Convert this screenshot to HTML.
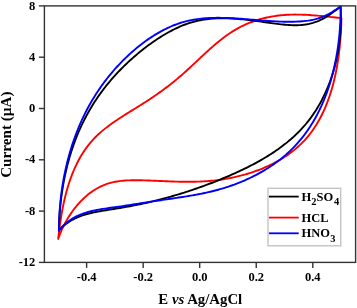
<!DOCTYPE html>
<html><head><meta charset="utf-8"><style>
html,body{margin:0;padding:0;background:#fff;}
body{width:357px;height:308px;overflow:hidden;}
svg{display:block;}
text{font-family:"Liberation Serif",serif;font-weight:bold;fill:#000;}
</style></head><body>
<svg width="357" height="308" viewBox="0 0 357 308">
<rect x="0" y="0" width="357" height="308" fill="#fff"/>
<path d="M58.20,238.90 L58.41,236.95 L58.63,234.98 L58.86,233.01 L59.10,231.03 L59.34,229.04 L59.60,227.05 L59.87,225.06 L60.16,223.06 L60.45,221.05 L60.76,219.04 L61.08,217.03 L61.41,215.02 L61.76,213.01 L62.12,211.00 L62.50,208.99 L62.89,206.98 L63.30,204.97 L63.73,202.97 L64.17,200.96 L64.63,198.97 L65.11,196.98 L65.60,194.99 L66.12,193.01 L66.65,191.04 L67.21,189.07 L67.78,187.11 L68.38,185.17 L68.99,183.23 L69.63,181.30 L70.29,179.39 L70.97,177.48 L71.68,175.59 L72.41,173.71 L73.16,171.85 L73.94,170.00 L74.74,168.17 L75.57,166.35 L76.42,164.55 L77.30,162.77 L78.21,161.01 L79.14,159.27 L80.10,157.54 L81.09,155.84 L82.11,154.16 L83.16,152.50 L84.23,150.86 L85.34,149.24 L86.48,147.65 L87.64,146.09 L88.84,144.55 L90.08,143.04 L91.34,141.55 L92.64,140.09 L93.97,138.66 L95.33,137.26 L96.72,135.89 L98.14,134.54 L99.60,133.21 L101.07,131.91 L102.58,130.63 L104.11,129.37 L105.66,128.13 L107.23,126.91 L108.83,125.70 L110.44,124.52 L112.07,123.35 L113.72,122.19 L115.38,121.05 L117.05,119.91 L118.74,118.79 L120.44,117.68 L122.15,116.58 L123.87,115.49 L125.59,114.40 L127.32,113.32 L129.06,112.24 L130.80,111.16 L132.54,110.09 L134.28,109.02 L136.02,107.94 L137.75,106.87 L139.49,105.79 L141.22,104.71 L142.94,103.63 L144.65,102.54 L146.36,101.44 L148.06,100.33 L149.75,99.22 L151.43,98.10 L153.10,96.97 L154.76,95.83 L156.42,94.69 L158.06,93.53 L159.70,92.37 L161.33,91.20 L162.95,90.01 L164.56,88.82 L166.16,87.62 L167.76,86.40 L169.35,85.18 L170.93,83.94 L172.50,82.70 L174.07,81.44 L175.62,80.17 L177.17,78.88 L178.72,77.59 L180.25,76.28 L181.78,74.96 L183.30,73.63 L184.81,72.28 L186.32,70.92 L187.82,69.55 L189.32,68.18 L190.81,66.80 L192.30,65.41 L193.79,64.02 L195.27,62.62 L196.76,61.22 L198.24,59.82 L199.73,58.43 L201.21,57.03 L202.70,55.64 L204.19,54.25 L205.69,52.87 L207.18,51.50 L208.68,50.13 L210.19,48.78 L211.71,47.44 L213.23,46.11 L214.75,44.79 L216.29,43.49 L217.84,42.21 L219.39,40.94 L220.95,39.70 L222.53,38.47 L224.12,37.27 L225.72,36.09 L227.33,34.93 L228.96,33.81 L230.60,32.70 L232.26,31.63 L233.93,30.59 L235.63,29.58 L237.33,28.60 L239.06,27.65 L240.80,26.74 L242.57,25.87 L244.35,25.02 L246.14,24.22 L247.95,23.44 L249.78,22.70 L251.63,21.99 L253.48,21.32 L255.36,20.68 L257.24,20.07 L259.14,19.50 L261.05,18.96 L262.98,18.45 L264.91,17.97 L266.86,17.53 L268.81,17.12 L270.78,16.73 L272.75,16.39 L274.74,16.07 L276.73,15.78 L278.73,15.53 L280.74,15.30 L282.75,15.11 L284.78,14.95 L286.80,14.81 L288.83,14.71 L290.87,14.64 L292.91,14.59 L294.95,14.57 L297.00,14.58 L299.05,14.60 L301.10,14.65 L303.15,14.72 L305.20,14.81 L307.25,14.92 L309.30,15.04 L311.34,15.18 L313.39,15.33 L315.43,15.50 L317.47,15.67 L319.50,15.86 L321.53,16.05 L323.55,16.25 L325.57,16.45 L327.58,16.66 L329.58,16.87 L331.57,17.08 L333.56,17.29 L335.53,17.50 L337.50,17.71 L339.46,17.91 L341.40,18.10 M341.40,18.10 L341.36,20.00 L341.31,21.91 L341.25,23.83 L341.18,25.77 L341.10,27.71 L341.00,29.67 L340.90,31.64 L340.79,33.61 L340.66,35.60 L340.52,37.59 L340.36,39.59 L340.20,41.60 L340.02,43.61 L339.83,45.63 L339.62,47.66 L339.40,49.69 L339.16,51.72 L338.91,53.75 L338.64,55.79 L338.36,57.83 L338.06,59.87 L337.75,61.91 L337.42,63.95 L337.07,65.99 L336.70,68.02 L336.32,70.06 L335.92,72.09 L335.50,74.12 L335.06,76.14 L334.61,78.16 L334.13,80.18 L333.63,82.19 L333.12,84.19 L332.58,86.18 L332.02,88.17 L331.45,90.14 L330.85,92.11 L330.23,94.07 L329.59,96.02 L328.92,97.95 L328.23,99.87 L327.52,101.79 L326.79,103.68 L326.03,105.57 L325.25,107.44 L324.45,109.29 L323.62,111.13 L322.77,112.95 L321.89,114.76 L320.98,116.54 L320.05,118.31 L319.09,120.06 L318.11,121.79 L317.10,123.50 L316.06,125.19 L315.00,126.86 L313.91,128.50 L312.79,130.12 L311.64,131.72 L310.46,133.29 L309.25,134.84 L308.02,136.36 L306.75,137.86 L305.45,139.33 L304.13,140.77 L302.77,142.19 L301.38,143.58 L299.97,144.94 L298.53,146.27 L297.06,147.58 L295.56,148.86 L294.04,150.11 L292.50,151.34 L290.93,152.54 L289.33,153.71 L287.71,154.86 L286.07,155.99 L284.41,157.08 L282.72,158.15 L281.02,159.20 L279.29,160.22 L277.55,161.21 L275.79,162.18 L274.00,163.12 L272.21,164.04 L270.39,164.93 L268.56,165.80 L266.71,166.65 L264.85,167.47 L262.98,168.26 L261.09,169.03 L259.18,169.78 L257.27,170.50 L255.34,171.20 L253.41,171.88 L251.46,172.53 L249.50,173.16 L247.54,173.76 L245.56,174.34 L243.58,174.90 L241.60,175.44 L239.60,175.95 L237.60,176.44 L235.60,176.91 L233.59,177.35 L231.57,177.77 L229.56,178.17 L227.54,178.55 L225.52,178.91 L223.50,179.24 L221.47,179.55 L219.45,179.84 L217.43,180.11 L215.41,180.36 L213.40,180.58 L211.38,180.79 L209.37,180.97 L207.36,181.14 L205.36,181.28 L203.36,181.40 L201.36,181.51 L199.37,181.60 L197.38,181.67 L195.39,181.73 L193.40,181.77 L191.42,181.80 L189.43,181.81 L187.45,181.81 L185.47,181.80 L183.49,181.78 L181.50,181.75 L179.52,181.71 L177.54,181.66 L175.56,181.60 L173.57,181.54 L171.59,181.47 L169.60,181.40 L167.61,181.32 L165.62,181.24 L163.63,181.16 L161.63,181.07 L159.63,180.98 L157.63,180.90 L155.62,180.81 L153.61,180.73 L151.60,180.65 L149.58,180.57 L147.56,180.49 L145.53,180.42 L143.49,180.36 L141.45,180.31 L139.41,180.26 L137.37,180.23 L135.33,180.22 L133.29,180.23 L131.25,180.27 L129.22,180.33 L127.20,180.42 L125.18,180.55 L123.17,180.71 L121.17,180.91 L119.19,181.16 L117.22,181.45 L115.26,181.79 L113.33,182.18 L111.41,182.63 L109.51,183.14 L107.63,183.71 L105.78,184.34 L103.95,185.04 L102.14,185.81 L100.36,186.64 L98.61,187.54 L96.88,188.49 L95.18,189.50 L93.50,190.57 L91.86,191.69 L90.24,192.86 L88.65,194.08 L87.09,195.35 L85.56,196.67 L84.06,198.03 L82.59,199.44 L81.15,200.88 L79.74,202.36 L78.37,203.88 L77.02,205.44 L75.71,207.02 L74.43,208.64 L73.19,210.28 L71.98,211.96 L70.80,213.65 L69.66,215.37 L68.55,217.11 L67.48,218.87 L66.45,220.65 L65.45,222.44 L64.49,224.24 L63.57,226.06 L62.68,227.88 L61.84,229.71 L61.03,231.55 L60.26,233.38 L59.54,235.22 L58.85,237.06 L58.20,238.90" fill="none" stroke="#ff0000" stroke-width="1.9" stroke-linejoin="round" stroke-linecap="round"/>
<path d="M58.90,230.50 L58.94,228.49 L59.00,226.48 L59.07,224.46 L59.15,222.45 L59.24,220.43 L59.35,218.42 L59.47,216.40 L59.61,214.39 L59.75,212.37 L59.91,210.36 L60.09,208.35 L60.27,206.34 L60.48,204.32 L60.69,202.31 L60.92,200.31 L61.16,198.30 L61.42,196.29 L61.69,194.29 L61.98,192.29 L62.28,190.29 L62.59,188.29 L62.92,186.30 L63.27,184.31 L63.63,182.32 L64.00,180.34 L64.39,178.35 L64.79,176.37 L65.21,174.40 L65.65,172.43 L66.10,170.46 L66.56,168.50 L67.04,166.54 L67.54,164.59 L68.05,162.64 L68.58,160.69 L69.12,158.75 L69.68,156.82 L70.26,154.89 L70.85,152.97 L71.46,151.05 L72.09,149.14 L72.73,147.23 L73.39,145.34 L74.07,143.44 L74.76,141.56 L75.47,139.68 L76.20,137.81 L76.94,135.94 L77.71,134.08 L78.49,132.23 L79.28,130.39 L80.10,128.55 L80.93,126.73 L81.78,124.91 L82.65,123.10 L83.53,121.30 L84.44,119.50 L85.36,117.72 L86.30,115.94 L87.26,114.18 L88.24,112.42 L89.23,110.67 L90.25,108.94 L91.28,107.21 L92.33,105.49 L93.40,103.79 L94.49,102.09 L95.59,100.40 L96.72,98.73 L97.86,97.06 L99.01,95.40 L100.19,93.76 L101.38,92.13 L102.59,90.50 L103.81,88.89 L105.05,87.29 L106.30,85.70 L107.58,84.13 L108.86,82.56 L110.16,81.01 L111.48,79.47 L112.81,77.94 L114.16,76.42 L115.52,74.91 L116.89,73.42 L118.28,71.94 L119.68,70.47 L121.10,69.01 L122.53,67.57 L123.97,66.14 L125.43,64.72 L126.90,63.32 L128.38,61.93 L129.87,60.55 L131.38,59.19 L132.90,57.84 L134.42,56.50 L135.97,55.18 L137.52,53.87 L139.08,52.57 L140.66,51.29 L142.24,50.03 L143.84,48.77 L145.44,47.54 L147.06,46.31 L148.68,45.10 L150.32,43.91 L151.96,42.73 L153.62,41.57 L155.28,40.43 L156.96,39.30 L158.64,38.19 L160.34,37.10 L162.04,36.04 L163.76,34.99 L165.48,33.97 L167.22,32.97 L168.96,32.00 L170.72,31.05 L172.49,30.13 L174.27,29.23 L176.06,28.37 L177.86,27.53 L179.67,26.73 L181.49,25.96 L183.33,25.22 L185.17,24.51 L187.03,23.84 L188.90,23.21 L190.78,22.61 L192.68,22.05 L194.58,21.52 L196.50,21.04 L198.43,20.60 L200.37,20.20 L202.32,19.84 L204.29,19.52 L206.27,19.24 L208.25,19.00 L210.25,18.79 L212.26,18.62 L214.27,18.48 L216.29,18.38 L218.32,18.31 L220.35,18.26 L222.39,18.25 L224.43,18.26 L226.48,18.30 L228.53,18.37 L230.58,18.45 L232.64,18.56 L234.70,18.69 L236.76,18.84 L238.81,19.01 L240.87,19.19 L242.92,19.39 L244.98,19.61 L247.03,19.84 L249.08,20.08 L251.12,20.33 L253.16,20.58 L255.19,20.85 L257.21,21.12 L259.23,21.40 L261.25,21.68 L263.25,21.97 L265.25,22.25 L267.24,22.53 L269.23,22.81 L271.22,23.09 L273.20,23.35 L275.18,23.61 L277.17,23.86 L279.15,24.10 L281.14,24.32 L283.13,24.53 L285.13,24.72 L287.13,24.89 L289.13,25.03 L291.14,25.14 L293.15,25.21 L295.16,25.23 L297.17,25.21 L299.18,25.12 L301.19,24.99 L303.18,24.79 L305.17,24.53 L307.15,24.20 L309.12,23.81 L311.07,23.35 L313.00,22.82 L314.91,22.21 L316.80,21.53 L318.66,20.77 L320.50,19.94 L322.31,19.05 L324.10,18.09 L325.86,17.07 L327.59,16.01 L329.30,14.89 L330.98,13.74 L332.64,12.56 L334.27,11.35 L335.89,10.12 L337.48,8.88 L339.05,7.64 L340.60,6.40 M340.60,6.40 L340.71,8.40 L340.80,10.40 L340.86,12.40 L340.91,14.41 L340.94,16.43 L340.94,18.44 L340.92,20.46 L340.89,22.49 L340.83,24.51 L340.75,26.54 L340.65,28.56 L340.53,30.59 L340.39,32.62 L340.22,34.65 L340.04,36.67 L339.83,38.70 L339.60,40.73 L339.35,42.75 L339.08,44.77 L338.79,46.79 L338.47,48.81 L338.14,50.82 L337.78,52.83 L337.40,54.83 L337.00,56.83 L336.57,58.83 L336.13,60.81 L335.66,62.80 L335.17,64.77 L334.65,66.74 L334.12,68.71 L333.56,70.66 L332.98,72.61 L332.38,74.55 L331.75,76.48 L331.11,78.40 L330.44,80.31 L329.74,82.21 L329.03,84.10 L328.29,85.98 L327.52,87.85 L326.74,89.71 L325.93,91.55 L325.10,93.39 L324.25,95.21 L323.37,97.01 L322.47,98.80 L321.55,100.58 L320.60,102.34 L319.63,104.09 L318.63,105.82 L317.61,107.54 L316.57,109.24 L315.51,110.92 L314.42,112.59 L313.31,114.24 L312.17,115.87 L311.01,117.48 L309.82,119.07 L308.62,120.65 L307.38,122.20 L306.13,123.74 L304.85,125.25 L303.54,126.74 L302.21,128.21 L300.86,129.67 L299.48,131.10 L298.09,132.51 L296.67,133.90 L295.23,135.28 L293.77,136.63 L292.29,137.97 L290.79,139.28 L289.27,140.58 L287.73,141.86 L286.17,143.12 L284.59,144.37 L283.00,145.59 L281.39,146.80 L279.77,148.00 L278.13,149.17 L276.47,150.33 L274.80,151.48 L273.12,152.61 L271.42,153.72 L269.71,154.82 L267.98,155.90 L266.24,156.96 L264.49,158.02 L262.73,159.05 L260.96,160.08 L259.18,161.09 L257.39,162.08 L255.59,163.07 L253.78,164.04 L251.96,164.99 L250.14,165.94 L248.31,166.87 L246.47,167.79 L244.62,168.69 L242.77,169.59 L240.91,170.47 L239.05,171.35 L237.18,172.21 L235.31,173.06 L233.44,173.90 L231.56,174.73 L229.69,175.55 L227.81,176.36 L225.92,177.16 L224.04,177.96 L222.16,178.74 L220.28,179.51 L218.39,180.28 L216.51,181.03 L214.62,181.78 L212.74,182.52 L210.85,183.25 L208.96,183.97 L207.07,184.68 L205.18,185.38 L203.29,186.08 L201.40,186.76 L199.51,187.44 L197.61,188.11 L195.72,188.77 L193.82,189.42 L191.92,190.06 L190.02,190.70 L188.12,191.32 L186.21,191.94 L184.31,192.54 L182.40,193.14 L180.49,193.73 L178.58,194.32 L176.67,194.89 L174.75,195.46 L172.84,196.01 L170.92,196.56 L169.00,197.10 L167.07,197.64 L165.14,198.16 L163.22,198.68 L161.28,199.18 L159.35,199.68 L157.41,200.17 L155.47,200.66 L153.53,201.13 L151.59,201.60 L149.64,202.06 L147.69,202.51 L145.73,202.95 L143.78,203.39 L141.82,203.81 L139.85,204.23 L137.89,204.64 L135.92,205.04 L133.94,205.44 L131.97,205.83 L129.99,206.21 L128.00,206.58 L126.01,206.94 L124.02,207.30 L122.03,207.65 L120.03,207.99 L118.02,208.32 L116.02,208.64 L114.00,208.96 L111.99,209.27 L109.97,209.58 L107.95,209.89 L105.94,210.21 L103.93,210.53 L101.92,210.86 L99.91,211.20 L97.92,211.57 L95.93,211.95 L93.95,212.35 L91.99,212.79 L90.04,213.25 L88.10,213.75 L86.18,214.28 L84.28,214.86 L82.39,215.47 L80.53,216.14 L78.69,216.85 L76.87,217.62 L75.08,218.44 L73.32,219.32 L71.58,220.27 L69.88,221.28 L68.20,222.36 L66.56,223.52 L64.95,224.75 L63.38,226.06 L61.85,227.45 L60.35,228.93 L58.90,230.50" fill="none" stroke="#000000" stroke-width="1.9" stroke-linejoin="round" stroke-linecap="round"/>
<path d="M58.90,230.50 L58.92,228.50 L58.95,226.51 L58.99,224.51 L59.05,222.51 L59.11,220.51 L59.20,218.50 L59.29,216.50 L59.40,214.49 L59.52,212.49 L59.66,210.49 L59.81,208.48 L59.97,206.48 L60.15,204.47 L60.34,202.47 L60.54,200.46 L60.76,198.46 L60.99,196.46 L61.24,194.46 L61.50,192.46 L61.77,190.46 L62.06,188.46 L62.36,186.47 L62.68,184.48 L63.01,182.49 L63.35,180.50 L63.71,178.51 L64.09,176.53 L64.47,174.55 L64.88,172.57 L65.29,170.60 L65.73,168.63 L66.17,166.67 L66.63,164.70 L67.11,162.75 L67.60,160.79 L68.10,158.84 L68.62,156.90 L69.16,154.96 L69.71,153.02 L70.28,151.09 L70.86,149.17 L71.45,147.25 L72.06,145.33 L72.69,143.42 L73.33,141.52 L73.99,139.63 L74.66,137.74 L75.35,135.85 L76.05,133.98 L76.77,132.11 L77.51,130.25 L78.26,128.39 L79.03,126.54 L79.81,124.70 L80.61,122.87 L81.42,121.05 L82.25,119.23 L83.10,117.42 L83.96,115.63 L84.84,113.84 L85.74,112.05 L86.65,110.28 L87.58,108.52 L88.52,106.76 L89.48,105.02 L90.46,103.28 L91.45,101.56 L92.46,99.84 L93.49,98.14 L94.53,96.44 L95.59,94.76 L96.67,93.08 L97.76,91.42 L98.87,89.76 L99.99,88.12 L101.14,86.48 L102.29,84.86 L103.47,83.25 L104.66,81.64 L105.87,80.05 L107.09,78.47 L108.33,76.91 L109.59,75.35 L110.86,73.80 L112.15,72.27 L113.46,70.75 L114.79,69.24 L116.13,67.74 L117.48,66.25 L118.86,64.78 L120.25,63.31 L121.65,61.86 L123.08,60.43 L124.52,59.00 L125.97,57.59 L127.45,56.19 L128.94,54.80 L130.45,53.42 L131.97,52.06 L133.51,50.72 L135.06,49.38 L136.64,48.07 L138.22,46.77 L139.83,45.49 L141.44,44.22 L143.07,42.98 L144.72,41.76 L146.38,40.56 L148.05,39.38 L149.74,38.22 L151.44,37.09 L153.15,35.99 L154.88,34.91 L156.62,33.85 L158.37,32.83 L160.13,31.83 L161.90,30.86 L163.69,29.93 L165.48,29.02 L167.29,28.15 L169.10,27.31 L170.93,26.50 L172.76,25.73 L174.61,25.00 L176.46,24.30 L178.33,23.64 L180.20,23.02 L182.08,22.43 L183.96,21.89 L185.86,21.39 L187.76,20.93 L189.67,20.50 L191.59,20.11 L193.51,19.75 L195.44,19.43 L197.38,19.14 L199.32,18.89 L201.27,18.66 L203.23,18.46 L205.19,18.29 L207.16,18.15 L209.13,18.04 L211.11,17.95 L213.09,17.88 L215.07,17.84 L217.06,17.81 L219.06,17.81 L221.06,17.83 L223.06,17.86 L225.07,17.91 L227.08,17.98 L229.09,18.07 L231.11,18.16 L233.12,18.27 L235.15,18.39 L237.17,18.52 L239.20,18.66 L241.22,18.81 L243.25,18.96 L245.28,19.12 L247.32,19.28 L249.35,19.45 L251.39,19.62 L253.42,19.79 L255.46,19.96 L257.49,20.13 L259.53,20.30 L261.57,20.47 L263.60,20.62 L265.64,20.78 L267.67,20.93 L269.70,21.07 L271.74,21.20 L273.77,21.32 L275.80,21.42 L277.83,21.52 L279.85,21.60 L281.88,21.67 L283.90,21.72 L285.92,21.76 L287.93,21.78 L289.95,21.78 L291.96,21.75 L293.96,21.71 L295.97,21.64 L297.96,21.55 L299.96,21.44 L301.95,21.29 L303.93,21.12 L305.91,20.90 L307.88,20.65 L309.84,20.35 L311.79,20.00 L313.72,19.60 L315.65,19.14 L317.56,18.62 L319.45,18.03 L321.33,17.37 L323.20,16.64 L325.04,15.84 L326.87,14.96 L328.67,14.02 L330.45,13.02 L332.21,11.98 L333.94,10.90 L335.65,9.80 L337.33,8.67 L338.98,7.54 L340.60,6.40 M340.60,6.40 L340.61,8.34 L340.61,10.28 L340.59,12.24 L340.56,14.20 L340.51,16.16 L340.46,18.13 L340.38,20.11 L340.29,22.10 L340.19,24.09 L340.07,26.08 L339.94,28.08 L339.80,30.08 L339.63,32.08 L339.46,34.09 L339.26,36.10 L339.06,38.12 L338.83,40.13 L338.59,42.15 L338.34,44.17 L338.06,46.19 L337.78,48.20 L337.47,50.22 L337.15,52.24 L336.81,54.26 L336.46,56.27 L336.09,58.29 L335.70,60.30 L335.30,62.31 L334.87,64.32 L334.43,66.32 L333.98,68.32 L333.50,70.32 L333.01,72.31 L332.50,74.29 L331.97,76.27 L331.42,78.25 L330.85,80.22 L330.27,82.18 L329.67,84.14 L329.05,86.09 L328.40,88.03 L327.74,89.96 L327.07,91.88 L326.37,93.80 L325.65,95.71 L324.91,97.60 L324.16,99.49 L323.38,101.37 L322.58,103.23 L321.76,105.09 L320.93,106.93 L320.07,108.76 L319.19,110.58 L318.29,112.38 L317.37,114.17 L316.43,115.95 L315.47,117.72 L314.49,119.47 L313.48,121.20 L312.46,122.92 L311.41,124.62 L310.34,126.31 L309.25,127.98 L308.13,129.64 L307.00,131.28 L305.84,132.90 L304.66,134.50 L303.46,136.08 L302.23,137.65 L300.98,139.19 L299.71,140.72 L298.42,142.22 L297.10,143.71 L295.76,145.17 L294.39,146.62 L293.01,148.04 L291.60,149.44 L290.17,150.82 L288.71,152.18 L287.24,153.52 L285.75,154.84 L284.23,156.14 L282.70,157.42 L281.14,158.67 L279.57,159.91 L277.98,161.12 L276.38,162.32 L274.75,163.49 L273.11,164.65 L271.45,165.78 L269.77,166.89 L268.08,167.98 L266.38,169.05 L264.66,170.10 L262.92,171.13 L261.18,172.14 L259.41,173.13 L257.64,174.10 L255.85,175.05 L254.05,175.97 L252.24,176.88 L250.42,177.77 L248.59,178.63 L246.74,179.48 L244.89,180.30 L243.03,181.11 L241.15,181.89 L239.27,182.66 L237.38,183.40 L235.49,184.13 L233.58,184.83 L231.67,185.51 L229.76,186.18 L227.84,186.82 L225.91,187.44 L223.97,188.05 L222.04,188.63 L220.09,189.19 L218.15,189.74 L216.20,190.26 L214.25,190.76 L212.29,191.25 L210.33,191.72 L208.37,192.18 L206.40,192.61 L204.44,193.04 L202.47,193.45 L200.49,193.84 L198.52,194.23 L196.54,194.60 L194.56,194.96 L192.58,195.32 L190.60,195.66 L188.61,195.99 L186.63,196.32 L184.64,196.64 L182.65,196.95 L180.66,197.26 L178.67,197.56 L176.68,197.86 L174.69,198.16 L172.70,198.45 L170.70,198.75 L168.71,199.04 L166.72,199.33 L164.73,199.62 L162.73,199.92 L160.74,200.21 L158.75,200.51 L156.76,200.82 L154.77,201.12 L152.78,201.43 L150.78,201.74 L148.79,202.05 L146.80,202.37 L144.81,202.68 L142.82,203.00 L140.83,203.31 L138.84,203.63 L136.85,203.94 L134.85,204.25 L132.86,204.56 L130.87,204.87 L128.87,205.18 L126.88,205.48 L124.88,205.79 L122.88,206.08 L120.88,206.38 L118.88,206.67 L116.88,206.95 L114.87,207.23 L112.86,207.51 L110.86,207.78 L108.85,208.06 L106.85,208.34 L104.85,208.63 L102.86,208.93 L100.87,209.25 L98.90,209.59 L96.93,209.95 L94.97,210.34 L93.03,210.76 L91.10,211.21 L89.18,211.70 L87.29,212.23 L85.41,212.80 L83.55,213.43 L81.71,214.10 L79.89,214.83 L78.10,215.62 L76.33,216.46 L74.59,217.38 L72.88,218.36 L71.19,219.41 L69.54,220.54 L67.92,221.73 L66.33,223.00 L64.77,224.34 L63.25,225.77 L61.76,227.26 L60.31,228.84 L58.90,230.50" fill="none" stroke="#0000ff" stroke-width="1.9" stroke-linejoin="round" stroke-linecap="round"/>
<g stroke="#333" stroke-width="1.4" fill="none">
<rect x="44.4" y="5.9" width="311.20" height="256.50"/>
<line x1="86.62" y1="262.40" x2="86.62" y2="267.90"/><line x1="143.16" y1="262.40" x2="143.16" y2="267.90"/><line x1="199.70" y1="262.40" x2="199.70" y2="267.90"/><line x1="256.24" y1="262.40" x2="256.24" y2="267.90"/><line x1="312.78" y1="262.40" x2="312.78" y2="267.90"/><line x1="38.90" y1="5.90" x2="44.40" y2="5.90"/><line x1="38.90" y1="57.20" x2="44.40" y2="57.20"/><line x1="38.90" y1="108.50" x2="44.40" y2="108.50"/><line x1="38.90" y1="159.80" x2="44.40" y2="159.80"/><line x1="38.90" y1="211.10" x2="44.40" y2="211.10"/><line x1="38.90" y1="262.40" x2="44.40" y2="262.40"/>
</g>
<g font-size="12.5">
<text transform="translate(86.62,281) scale(1,1.05)" text-anchor="middle">-0.4</text><text transform="translate(143.16,281) scale(1,1.05)" text-anchor="middle">-0.2</text><text transform="translate(199.70,281) scale(1,1.05)" text-anchor="middle">0.0</text><text transform="translate(256.24,281) scale(1,1.05)" text-anchor="middle">0.2</text><text transform="translate(312.78,281) scale(1,1.05)" text-anchor="middle">0.4</text><text transform="translate(35.3,9.50) scale(1,1.05)" text-anchor="end">8</text><text transform="translate(35.3,60.80) scale(1,1.05)" text-anchor="end">4</text><text transform="translate(35.3,112.10) scale(1,1.05)" text-anchor="end">0</text><text transform="translate(35.3,163.40) scale(1,1.05)" text-anchor="end">-4</text><text transform="translate(35.3,214.70) scale(1,1.05)" text-anchor="end">-8</text><text transform="translate(35.3,266.00) scale(1,1.05)" text-anchor="end">-12</text>
</g>
<text transform="translate(11.2,134.6) rotate(-90)" text-anchor="middle" font-size="15.2">Current (µA)</text>
<text transform="translate(200.3,304.3)" text-anchor="middle" font-size="14.8">E <tspan font-style="italic">vs</tspan> Ag/AgCl</text>
<g>
<rect x="268" y="188.3" width="72.7" height="57.5" fill="#fff" stroke="#c4c4c4" stroke-width="1.4"/>
<line x1="269" y1="196.6" x2="298.7" y2="196.6" stroke="#000" stroke-width="1.8"/>
<line x1="269" y1="217.6" x2="298.7" y2="217.6" stroke="#ff0000" stroke-width="1.8"/>
<line x1="269" y1="233.3" x2="298.7" y2="233.3" stroke="#0000ff" stroke-width="1.8"/>
<g font-size="12.5">
<text transform="translate(301.5,200.8) scale(1,1.05)">H<tspan font-size="10.5" dy="4.4">2</tspan><tspan dy="-4.4">SO</tspan><tspan font-size="10.5" dy="4.4" dx="0.8">4</tspan></text>
<text transform="translate(301.5,222) scale(1,1.05)">HCL</text>
<text transform="translate(301.5,237.3) scale(1,1.05)">HNO<tspan font-size="10.5" dy="4.4" dx="0.4">3</tspan></text>
</g>
</g>
</svg>
</body></html>
